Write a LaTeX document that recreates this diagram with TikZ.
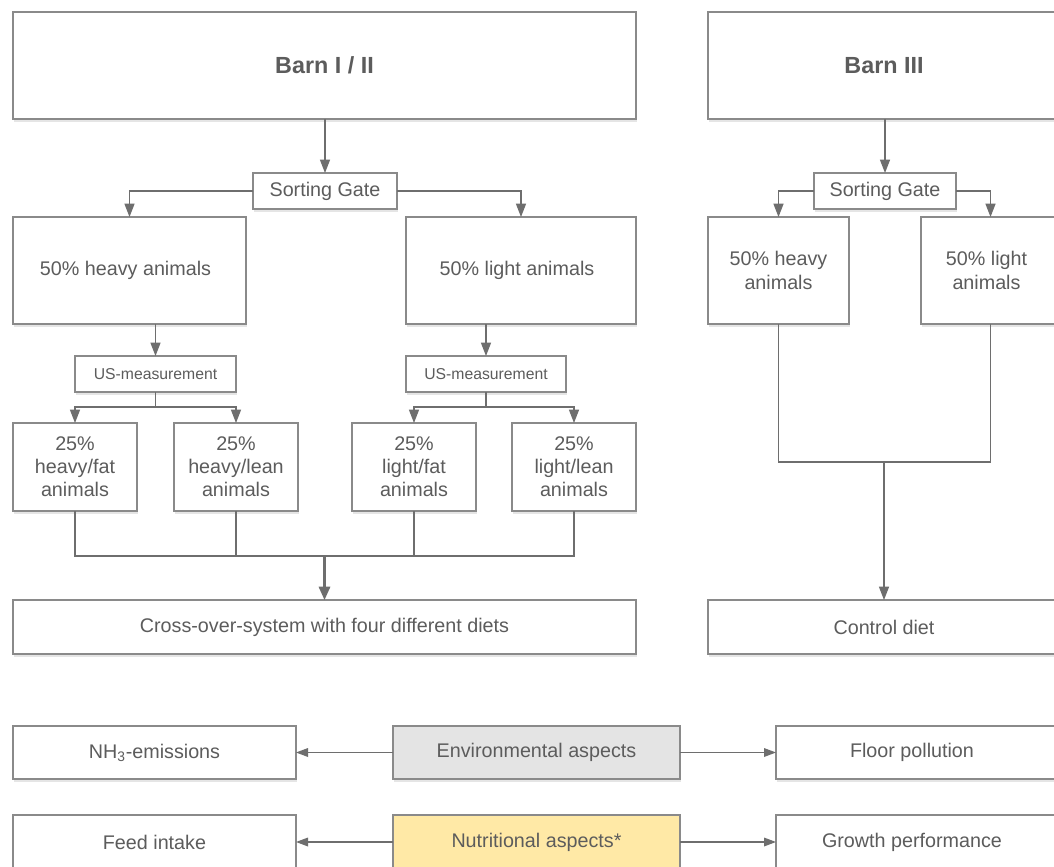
\documentclass[tikz,border=0pt]{standalone}
\usepackage{fontspec}
\setmainfont{Liberation Sans}
\usetikzlibrary{arrows.meta,shadows,calc}
\definecolor{txt}{HTML}{5C5C5C}
\definecolor{ln}{HTML}{6E6E6E}
\definecolor{bd}{HTML}{8A8A8A}
\definecolor{envfill}{HTML}{E4E4E4}
\definecolor{nutfill}{HTML}{FFE9A6}
\newcommand\pbox[7]{\node[#1, minimum width={(#4-#3)*0.75pt}, minimum height={(#6-#5)*0.75pt}] (#2) at ({(#3+#4)/2},{(#5+#6)/2}) {#7};}
\begin{document}
\begin{tikzpicture}[x=0.75pt,y=-0.75pt,
  box/.style={draw=bd, line width=0.8pt, fill=white, text=txt, inner sep=0pt, outer sep=0pt, align=center,
    font=\fontsize{14.8}{17.4}\selectfont,
    drop shadow={shadow xshift=0.4pt, shadow yshift=-2pt, opacity=0.10, fill=black}},
  bold/.style={font=\fontsize{17.5}{20}\selectfont\bfseries},
  small/.style={font=\fontsize{11.8}{14}\selectfont},
  conn/.style={draw=ln, line width=0.9pt},
  arr/.style={conn, -{Triangle[length=10pt,width=7.5pt]}},
  sarr/.style={conn, -{Triangle[length=9pt,width=6.5pt]}},
  thickarr/.style={draw=ln, line width=1.6pt, -{Triangle[length=10pt,width=8.5pt]}}]
\useasboundingbox (0,0) rectangle (1054,867);
\clip (0,0) rectangle (1054,867);
\fill[white] (0,0) rectangle (1054,867);

% top row
\pbox{box,bold}{barnA}{13}{636}{12}{119}{Barn I / II}
\pbox{box,bold}{barnB}{708}{1060}{12}{119}{Barn III}
\pbox{box}{gateA}{253}{397}{173}{209}{Sorting Gate}
\pbox{box}{gateB}{814}{956}{173}{209}{Sorting Gate}
\pbox{box}{heavyA}{13}{246}{217}{324}{\hspace*{-6pt}50\% heavy animals}
\pbox{box}{lightA}{406}{636}{217}{324}{\hspace*{-6pt}50\% light animals}
\pbox{box}{heavyB}{708}{849}{217}{324}{50\% heavy\\animals}
\pbox{box}{lightB}{921}{1060}{217}{324}{\hspace*{-6pt}50\% light\\\hspace*{-6pt}animals}
\pbox{box,small}{usA}{75}{236}{356}{392}{US-measurement}
\pbox{box,small}{usB}{406}{566}{356}{392}{US-measurement}
\pbox{box}{sA}{13}{137}{423}{511}{25\%\\heavy/fat\\animals}
\pbox{box}{sB}{174}{298}{423}{511}{25\%\\heavy/lean\\animals}
\pbox{box}{sC}{352}{476}{423}{511}{25\%\\light/fat\\animals}
\pbox{box}{sD}{512}{636}{423}{511}{25\%\\light/lean\\animals}
\pbox{box}{cross}{13}{636}{600}{654}{Cross-over-system with four different diets}
\pbox{box}{control}{708}{1060}{600}{654}{Control diet}

% bottom rows
\pbox{box}{nh}{13}{296}{726}{779}{NH\textsubscript{3}-emissions}
\pbox{box,fill=envfill}{env}{393}{680}{726}{779}{Environmental aspects}
\pbox{box}{floor}{776}{1060}{726}{779}{\hspace*{-9pt}Floor pollution}
\pbox{box}{feed}{13}{296}{815}{869}{Feed intake}
\pbox{box,fill=nutfill}{nutr}{393}{680}{815}{869}{Nutritional aspects*}
\pbox{box}{growth}{776}{1060}{815}{869}{\hspace*{-9pt}Growth performance}

% connectors Barn I / II
\draw[arr] (gateA.north |- barnA.south) -- (gateA.north);
\draw[arr] (gateA.west) -| (heavyA.north);
\draw[arr] (gateA.east) -| (lightA.north);
\draw[arr] (usA.north |- heavyA.south) -- (usA.north);
\draw[arr] (usB.north |- lightA.south) -- (usB.north);
\draw[conn] (usA.south) -- ++(0,15) coordinate (jA);
\draw[arr] (jA) -| (sA.north);
\draw[arr] (jA) -| (sB.north);
\draw[conn] (usB.south) -- ++(0,15) coordinate (jB);
\draw[arr] (jB) -| (sC.north);
\draw[arr] (jB) -| (sD.north);
\coordinate (busA) at (cross.north |- 0,556);
\draw[conn] (sA.south) |- (busA) -| (sD.south);
\draw[conn] (sB.south) -- (sB.south |- busA);
\draw[conn] (sC.south) -- (sC.south |- busA);
\draw[thickarr] (busA) -- (cross.north);

% connectors Barn III
\draw[arr] (gateB.north |- barnB.south) -- (gateB.north);
\draw[arr] (gateB.west) -| (heavyB.north);
\draw[arr] (gateB.east) -| (lightB.north);
\coordinate (busB) at (control.north |- 0,462);
\draw[conn] (heavyB.south) |- (busB) -| (lightB.south);
\draw[arr] (busB) -- (control.north);

% aspects
\draw[sarr] (env.west) -- (nh.east);
\draw[sarr] (env.east) -- (floor.west);
\draw[sarr] (nutr.west) -- (feed.east);
\draw[sarr] (nutr.east) -- (growth.west);
\end{tikzpicture}
\end{document}
